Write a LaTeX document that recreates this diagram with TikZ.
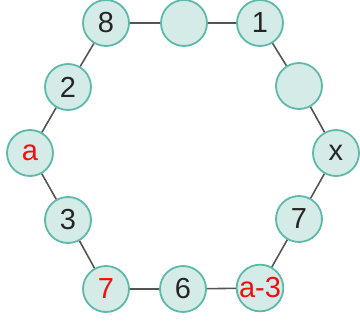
\documentclass[tikz,border=0pt]{standalone}
\usepackage{fontspec}
\setmainfont{Liberation Sans}
\definecolor{cfill}{HTML}{D4EBE8}
\definecolor{cedge}{HTML}{5DB9AA}
\definecolor{cline}{HTML}{555555}
\definecolor{cred}{HTML}{F01010}
\begin{document}
\begin{tikzpicture}[x=1pt,y=-1pt,
  ball/.style={circle,draw=cedge,fill=cfill,line width=1.8pt,minimum size=46pt,inner sep=0pt,font=\fontsize{29}{29}\selectfont,text=black!85},
  rd/.style={text=cred},
  link/.style={draw=cline,line width=1.6pt}]
\useasboundingbox (0,0) rectangle (360,322);
\node[ball] (n8) at (106,23) {8};
\node[ball] (nt) at (184,23) {};
\node[ball] (n1) at (260,23) {1};
\node[ball] (nr) at (299,86) {};
\node[ball] (nx) at (336,153) {x};
\node[ball] (n7b) at (299,219) {7};
\node[ball,rd] (na3) at (260,288) {a-3};
\node[ball] (n6) at (183,289) {6};
\node[ball,rd] (n7r) at (106,289) {7};
\node[ball] (n3) at (68,220) {3};
\node[ball,rd] (na) at (30,153) {a};
\node[ball] (n2) at (68,87) {2};
\path[link] (n8)--(nt) (nt)--(n1) (n1)--(nr) (nr)--(nx) (nx)--(n7b) (n7b)--(na3)
  (na3)--(n6) (n6)--(n7r) (n7r)--(n3) (n3)--(na) (na)--(n2) (n2)--(n8);
\end{tikzpicture}
\end{document}
